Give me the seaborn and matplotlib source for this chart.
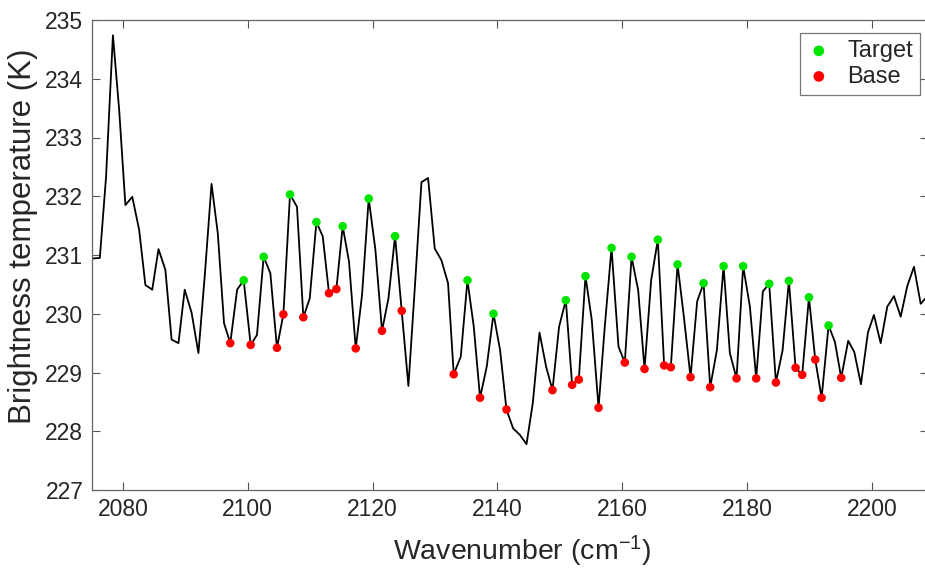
import matplotlib
matplotlib.use('Agg')
import matplotlib.pyplot as plt
import seaborn as sns
import pandas as pd

sns.set_theme(style="white")
plt.rcParams['font.family'] = ['Liberation Sans', 'DejaVu Sans']
plt.rcParams['mathtext.default'] = 'regular'

# --- spectrum ---
wavenumber = [
    2075.0, 2076.3, 2077.3, 2078.4, 2079.4, 2080.4, 2081.5, 2082.6, 2083.6, 2084.7,
    2085.7, 2086.8, 2087.8, 2088.9, 2089.9, 2091.0, 2092.1, 2093.1, 2094.2, 2095.2,
    2096.2, 2097.2, 2098.3, 2099.35, 2100.47, 2101.48, 2102.55, 2103.62, 2104.68, 2105.71,
    2106.77, 2107.89, 2108.91, 2109.93, 2111.0, 2112.01, 2113.02, 2114.2, 2115.21, 2116.22,
    2117.3, 2118.31, 2119.38, 2120.45, 2121.51, 2122.54, 2123.6, 2124.67, 2125.74, 2126.8,
    2127.83, 2128.89, 2129.96, 2131.03, 2132.09, 2133.0, 2134.13, 2135.2, 2136.21, 2137.22,
    2138.29, 2139.37, 2140.43, 2141.45, 2142.51, 2143.58, 2144.66, 2145.67, 2146.74, 2147.8,
    2148.82, 2149.88, 2150.96, 2151.97, 2153.04, 2154.11, 2155.12, 2156.2, 2157.2, 2158.28,
    2159.4, 2160.41, 2161.49, 2162.55, 2163.57, 2164.63, 2165.7, 2166.71, 2167.78, 2168.86,
    2169.87, 2170.94, 2172.0, 2173.03, 2174.09, 2175.16, 2176.23, 2177.24, 2178.31, 2179.37,
    2180.45, 2181.46, 2182.53, 2183.54, 2184.62, 2185.69, 2186.7, 2187.77, 2188.83, 2189.91,
    2190.92, 2191.94, 2193.06, 2194.07, 2195.08, 2196.2, 2197.17, 2198.24, 2199.36, 2200.32,
    2201.4, 2202.46, 2203.53, 2204.61, 2205.66, 2206.74, 2207.81, 2208.9,
]
brightness = [
    230.94, 230.95, 232.33, 234.74, 233.47, 231.85, 231.99, 231.43, 230.49, 230.41,
    231.10, 230.75, 229.56, 229.50, 230.41, 230.02, 229.33, 230.63, 232.21, 231.37,
    229.84, 229.50, 230.41, 230.57, 229.47, 229.64, 230.97, 230.69, 229.42, 229.99,
    232.03, 231.82, 229.94, 230.26, 231.56, 231.32, 230.35, 230.42, 231.49, 230.89,
    229.41, 230.32, 231.96, 231.09, 229.71, 230.26, 231.32, 230.05, 228.77, 230.50,
    232.24, 232.31, 231.11, 230.91, 230.52, 228.97, 229.27, 230.57, 229.78, 228.57,
    229.10, 230.00, 229.38, 228.37, 228.05, 227.94, 227.78, 228.48, 229.68, 229.10,
    228.70, 229.78, 230.23, 228.79, 228.88, 230.64, 229.89, 228.40, 229.78, 231.12,
    229.44, 229.17, 230.97, 230.40, 229.06, 230.57, 231.26, 229.12, 229.09, 230.84,
    229.95, 228.92, 230.21, 230.52, 228.75, 229.38, 230.81, 229.33, 228.90, 230.81,
    230.12, 228.90, 230.38, 230.51, 228.83, 229.38, 230.56, 229.08, 228.96, 230.28,
    229.22, 228.57, 229.80, 229.52, 228.91, 229.54, 229.35, 228.80, 229.68, 229.98,
    229.50, 230.12, 230.30, 229.95, 230.47, 230.80, 230.17, 230.30,
]

# --- selected channels ---
target_wn = [2099.35, 2102.55, 2106.77, 2111.0, 2115.21, 2119.38, 2123.6, 2135.2, 2139.37,
             2150.96, 2154.11, 2158.28, 2161.49, 2165.7, 2168.86, 2173.03, 2176.23, 2179.37,
             2183.54, 2186.7, 2189.91, 2193.06]
target_bt = [230.57, 230.97, 232.03, 231.56, 231.49, 231.96, 231.32, 230.57, 230.00,
             230.23, 230.64, 231.12, 230.97, 231.26, 230.84, 230.52, 230.81, 230.81,
             230.51, 230.56, 230.28, 229.80]

base_wn = [2097.2, 2100.47, 2104.68, 2105.71, 2108.91, 2113.02, 2114.2, 2117.3, 2121.51,
           2124.67, 2133.0, 2137.22, 2141.45, 2148.82, 2151.97, 2153.04, 2156.2, 2160.41,
           2163.57, 2166.71, 2167.78, 2170.94, 2174.09, 2178.31, 2181.46, 2184.62, 2187.77,
           2188.83, 2190.92, 2191.94, 2195.08]
base_bt = [229.50, 229.47, 229.42, 229.99, 229.94, 230.35, 230.42, 229.41, 229.71,
           230.05, 228.97, 228.57, 228.37, 228.70, 228.79, 228.88, 228.40, 229.17,
           229.06, 229.12, 229.09, 228.92, 228.75, 228.90, 228.90, 228.83, 229.08,
           228.96, 229.22, 228.57, 228.91]

spec = pd.DataFrame({'wn': wavenumber, 'bt': brightness})
tgt = pd.DataFrame({'wn': target_wn, 'bt': target_bt})
base = pd.DataFrame({'wn': base_wn, 'bt': base_bt})

fig = plt.figure(figsize=(9.25, 5.7), dpi=100)
ax = fig.add_axes([91.7 / 925, 80 / 570, 836.4 / 925, 470 / 570])

sns.lineplot(data=spec, x='wn', y='bt', color='black', lw=1.3, sort=False,
             estimator=None, ax=ax, zorder=2)
sns.scatterplot(data=tgt, x='wn', y='bt', color='#00e400', s=38, edgecolor='none',
                label='Target', ax=ax, zorder=3)
sns.scatterplot(data=base, x='wn', y='bt', color='#ff0000', s=38, edgecolor='none',
                label='Base', ax=ax, zorder=3)

ax.set_xlim(2075, 2209)
ax.set_ylim(227, 235)
ax.set_xticks([2080, 2100, 2120, 2140, 2160, 2180, 2200])
ax.set_yticks(range(227, 236))
ax.tick_params(direction='in', length=5.5, width=0.8, color='#555555',
               labelsize=16.5, labelcolor='#262626', top=True, right=True,
               bottom=True, left=True, pad=6)
for sp in ax.spines.values():
    sp.set_color('#666666')
    sp.set_linewidth(0.9)

ax.set_xlabel('Wavenumber (cm$^{-1}$)', fontsize=20.5, color='#262626')
ax.set_ylabel('Brightness temperature (K)', fontsize=22.5, color='#262626')
ax.xaxis.set_label_coords(0.515, -0.094)
ax.yaxis.set_label_coords(-0.064, 0.54)

leg = ax.legend(loc='upper right', bbox_to_anchor=(920 / 925, 1 - 33 / 570),
                bbox_transform=fig.transFigure, borderaxespad=0, fontsize=17,
                frameon=True, fancybox=False, edgecolor='#555555', handletextpad=0.7,
                borderpad=0.3, labelspacing=0.15, markerscale=1.25, handlelength=1.0)
leg.get_frame().set_linewidth(0.9)

fig.savefig('out.png', dpi=100)
plt.close()
